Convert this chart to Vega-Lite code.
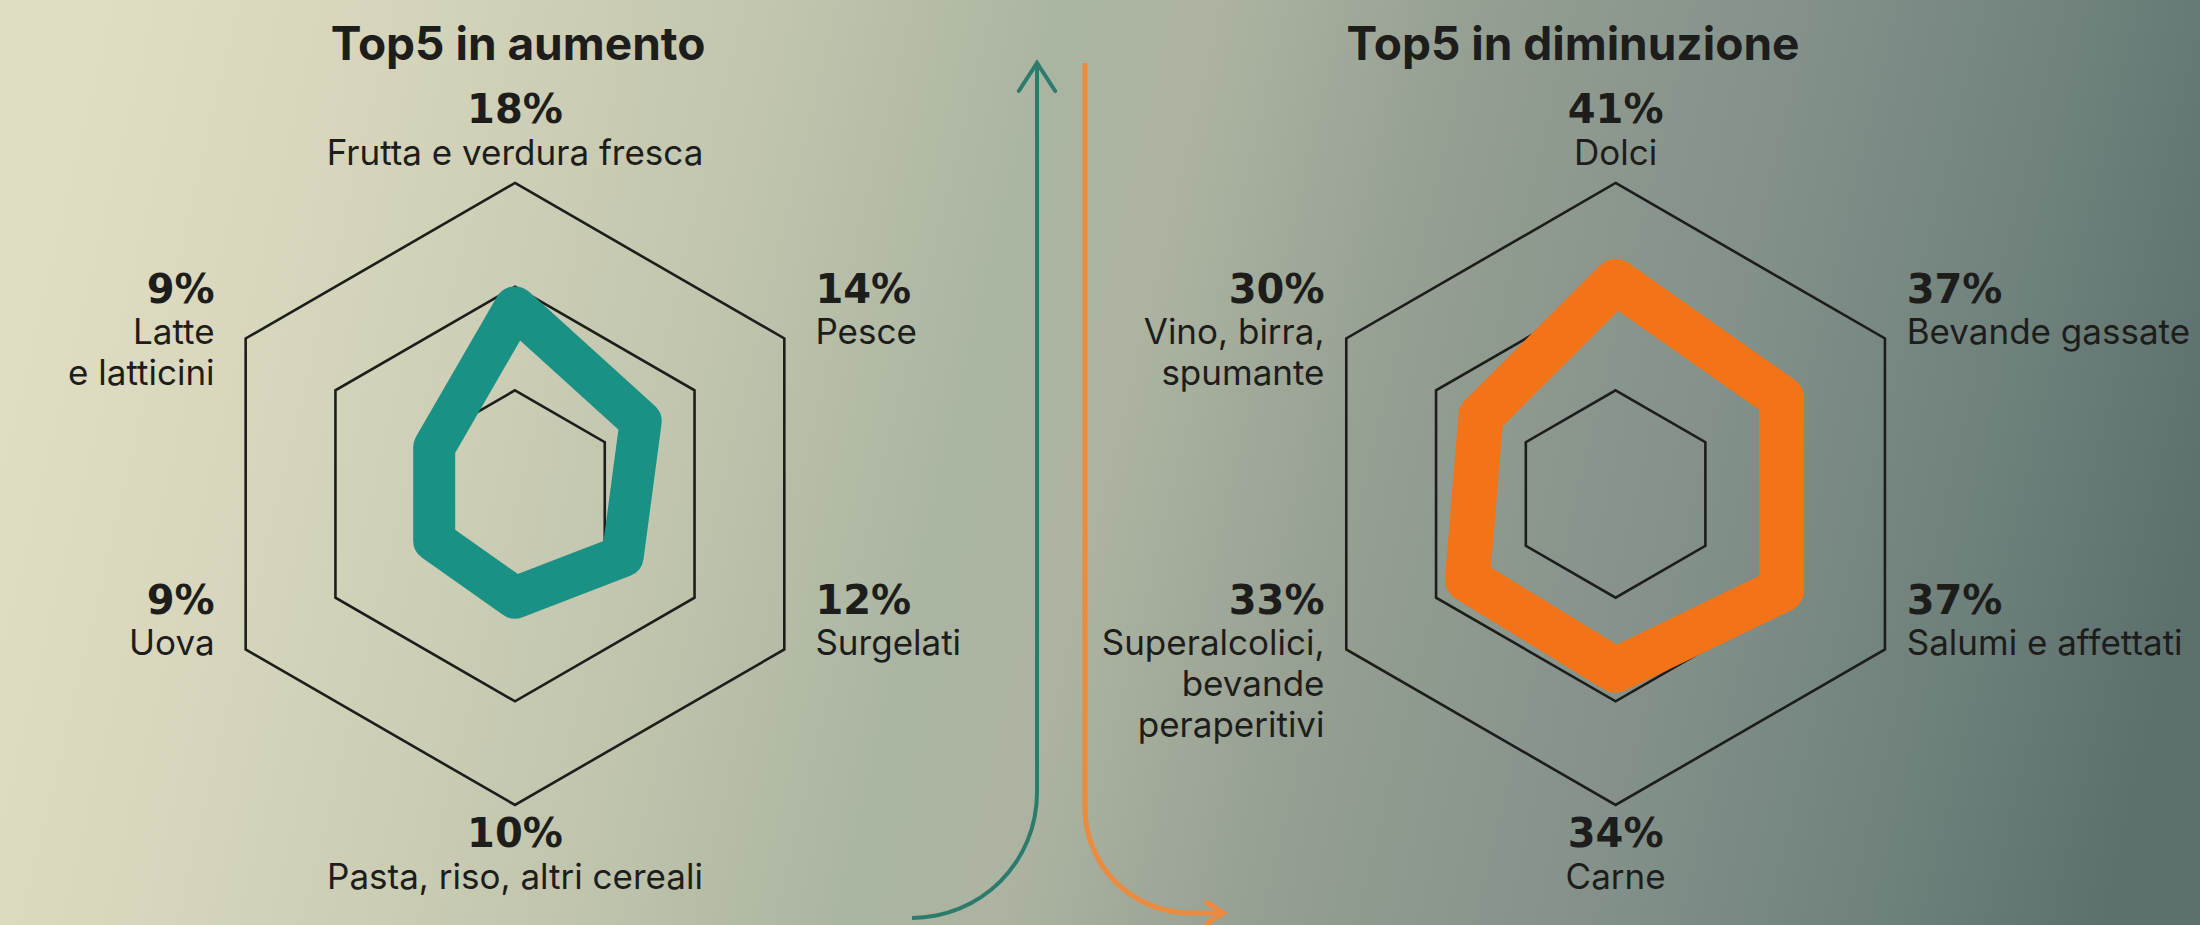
{
  "$schema": "https://vega.github.io/schema/vega-lite/v6.json",
  "width": 2200,
  "height": 925,
  "autosize": {"type": "none"},
  "padding": 0,
  "background": "#a9b3a0",
  "config": {
    "view": {
      "stroke": null,
      "fill": {
        "gradient": "linear",
        "x1": 0, "y1": 0.45, "x2": 1, "y2": 0.55,
        "stops": [
          {"offset": 0, "color": "#dfddc2"},
          {"offset": 0.12, "color": "#d7d6bc"},
          {"offset": 0.3, "color": "#c2c6ae"},
          {"offset": 0.44, "color": "#a9b4a1"},
          {"offset": 0.5, "color": "#adb4a1"},
          {"offset": 0.62, "color": "#959f92"},
          {"offset": 0.77, "color": "#83918a"},
          {"offset": 0.9, "color": "#6f817b"},
          {"offset": 1, "color": "#5d706e"}
        ]
      }
    },
    "text": {"font": "Inter", "color": "#1d1d1b"}
  },
  "datasets": {
    "aumento": [
      {"categoria": "Frutta e verdura fresca", "etichetta": "Frutta e verdura fresca", "valore": 18, "ordine": 0},
      {"categoria": "Pesce", "etichetta": "Pesce", "valore": 14, "ordine": 1},
      {"categoria": "Surgelati", "etichetta": "Surgelati", "valore": 12, "ordine": 2},
      {"categoria": "Pasta, riso, altri cereali", "etichetta": "Pasta, riso, altri cereali", "valore": 10, "ordine": 3},
      {"categoria": "Uova", "etichetta": "Uova", "valore": 9, "ordine": 4},
      {"categoria": "Latte e latticini", "etichetta": "Latte\ne latticini", "valore": 9, "ordine": 5}
    ],
    "diminuzione": [
      {"categoria": "Dolci", "etichetta": "Dolci", "valore": 41, "ordine": 0},
      {"categoria": "Bevande gassate", "etichetta": "Bevande gassate", "valore": 37, "ordine": 1},
      {"categoria": "Salumi e affettati", "etichetta": "Salumi e affettati", "valore": 37, "ordine": 2},
      {"categoria": "Carne", "etichetta": "Carne", "valore": 34, "ordine": 3},
      {"categoria": "Superalcolici, bevande peraperitivi", "etichetta": "Superalcolici,\nbevande\nperaperitivi", "valore": 33, "ordine": 4},
      {"categoria": "Vino, birra, spumante", "etichetta": "Vino, birra,\nspumante", "valore": 30, "ordine": 5}
    ]
  },
  "resolve": {"scale": {"x": "independent", "y": "independent", "size": "independent"}},
  "layer": [
    {
      "layer": [
        {
          "data": {"values": [{"livello": 10}, {"livello": 20}, {"livello": 30}]},
          "mark": {"type": "point", "shape": "M0,-1L0.866,-0.5L0.866,0.5L0,1L-0.866,0.5L-0.866,-0.5Z", "filled": false, "stroke": "#1d1d1b", "strokeWidth": 2.6, "opacity": 1},
          "encoding": {
            "x": {"datum": 0, "type": "quantitative", "scale": {"domain": [-1.6559, 5.418], "nice": false, "zero": false}, "axis": null},
            "y": {"datum": 0, "type": "quantitative", "scale": {"domain": [-1.3859, 1.5884], "nice": false, "zero": false}, "axis": null},
            "size": {"field": "livello", "type": "quantitative", "scale": {"type": "pow", "exponent": 2, "domain": [0, 30], "range": [0, 386884]}, "legend": null}
          }
        },
        {
          "data": {"values": [{"titolo": "Top5 in aumento"}]},
          "mark": {"type": "text", "font": "Inter", "fontWeight": 700, "fontSize": 46, "baseline": "middle", "align": "center"},
          "encoding": {
            "x": {"datum": 0.01, "type": "quantitative", "scale": {"domain": [-1.6559, 5.418], "nice": false, "zero": false}, "axis": null},
            "y": {"datum": 1.4405, "type": "quantitative", "scale": {"domain": [-1.3859, 1.5884], "nice": false, "zero": false}, "axis": null},
            "text": {"field": "titolo"}
          }
        },
        {
          "data": {"name": "aumento"},
          "transform": [
            {"calculate": "datum.ordine * PI / 3", "as": "theta"},
            {"calculate": "sin(datum.theta)", "as": "s"},
            {"calculate": "cos(datum.theta)", "as": "c"},
            {"calculate": "datum.valore / 30 * datum.s", "as": "px"},
            {"calculate": "datum.valore / 30 * datum.c", "as": "py"},
            {"calculate": "datum.valore + '%'", "as": "pct"},
            {"calculate": "abs(datum.s) < 0.1 ? 0 : (datum.s > 0 ? 1 : -1) * 0.966", "as": "lx"},
            {"calculate": "abs(datum.s) < 0.1 ? (datum.c > 0 ? 1.233 : -1.097) : datum.c + 0.154", "as": "pcty"},
            {"calculate": "abs(datum.s) < 0.1 ? (datum.c > 0 ? 1.148 : -1.18) : datum.c + 0.071", "as": "laby"}
          ],
          "encoding": {
            "x": {"field": "lx", "type": "quantitative", "scale": {"domain": [-1.6559, 5.418], "nice": false, "zero": false}, "axis": null}
          },
          "layer": [
            {
              "mark": {"type": "line", "interpolate": "linear-closed", "stroke": "#1a9185", "strokeWidth": 42, "strokeJoin": "round"},
              "encoding": {
                "x": {"field": "px", "type": "quantitative", "scale": {"domain": [-1.6559, 5.418], "nice": false, "zero": false}, "axis": null},
                "y": {"field": "py", "type": "quantitative", "scale": {"domain": [-1.3859, 1.5884], "nice": false, "zero": false}, "axis": null},
                "order": {"field": "ordine"}
              }
            },
            {
              "transform": [{"filter": "datum.s > 0.1"}],
              "mark": {"type": "text", "font": "DejaVu Sans", "fontWeight": "bold", "fontSize": 40, "align": "left", "baseline": "middle"},
              "encoding": {"y": {"field": "pcty", "type": "quantitative", "scale": {"domain": [-1.3859, 1.5884], "nice": false, "zero": false}, "axis": null}, "text": {"field": "pct"}}
            },
            {
              "transform": [{"filter": "datum.s < -0.1"}],
              "mark": {"type": "text", "font": "DejaVu Sans", "fontWeight": "bold", "fontSize": 40, "align": "right", "baseline": "middle"},
              "encoding": {"y": {"field": "pcty", "type": "quantitative", "scale": {"domain": [-1.3859, 1.5884], "nice": false, "zero": false}, "axis": null}, "text": {"field": "pct"}}
            },
            {
              "transform": [{"filter": "abs(datum.s) <= 0.1"}],
              "mark": {"type": "text", "font": "DejaVu Sans", "fontWeight": "bold", "fontSize": 40, "align": "center", "baseline": "middle"},
              "encoding": {"y": {"field": "pcty", "type": "quantitative", "scale": {"domain": [-1.3859, 1.5884], "nice": false, "zero": false}, "axis": null}, "text": {"field": "pct"}}
            },
            {
              "transform": [{"filter": "datum.s > 0.1"}],
              "mark": {"type": "text", "fontSize": 35, "align": "left", "baseline": "top", "lineBreak": "\n", "lineHeight": 41},
              "encoding": {"y": {"field": "laby", "type": "quantitative", "scale": {"domain": [-1.3859, 1.5884], "nice": false, "zero": false}, "axis": null}, "text": {"field": "etichetta"}}
            },
            {
              "transform": [{"filter": "datum.s < -0.1"}],
              "mark": {"type": "text", "fontSize": 35, "align": "right", "baseline": "top", "lineBreak": "\n", "lineHeight": 41},
              "encoding": {"y": {"field": "laby", "type": "quantitative", "scale": {"domain": [-1.3859, 1.5884], "nice": false, "zero": false}, "axis": null}, "text": {"field": "etichetta"}}
            },
            {
              "transform": [{"filter": "abs(datum.s) <= 0.1"}],
              "mark": {"type": "text", "fontSize": 35, "align": "center", "baseline": "top", "lineBreak": "\n", "lineHeight": 41},
              "encoding": {"y": {"field": "laby", "type": "quantitative", "scale": {"domain": [-1.3859, 1.5884], "nice": false, "zero": false}, "axis": null}, "text": {"field": "etichetta"}}
            }
          ]
        }
      ]
    },
    {
      "data": {"values": [{}]},
      "layer": [
        {
          "mark": {"type": "rule", "stroke": "#2c7b6c", "strokeWidth": 4},
          "encoding": {
            "x": {"datum": 1.6785, "type": "quantitative", "scale": {"domain": [-1.6559, 5.418], "nice": false, "zero": false}, "axis": null},
            "y": {"datum": 1.3859, "type": "quantitative", "scale": {"domain": [-1.3859, 1.5884], "nice": false, "zero": false}, "axis": null},
            "y2": {"datum": -0.9614}
          }
        },
        {
          "mark": {"type": "arc", "theta": 1.5708, "theta2": 3.1416, "radius": 127, "radius2": 123, "fill": "#2c7b6c"},
          "encoding": {
            "x": {"datum": 1.2765, "type": "quantitative", "scale": {"domain": [-1.6559, 5.418], "nice": false, "zero": false}, "axis": null},
            "y": {"datum": -0.9614, "type": "quantitative", "scale": {"domain": [-1.3859, 1.5884], "nice": false, "zero": false}, "axis": null}
          }
        },
        {
          "mark": {"type": "point", "shape": "M-0.65,1L0,0L0.65,1", "size": 3136, "filled": false, "stroke": "#2c7b6c", "strokeWidth": 4, "opacity": 1, "strokeCap": "round"},
          "encoding": {
            "x": {"datum": 1.6785, "type": "quantitative", "scale": {"domain": [-1.6559, 5.418], "nice": false, "zero": false}, "axis": null},
            "y": {"datum": 1.3859, "type": "quantitative", "scale": {"domain": [-1.3859, 1.5884], "nice": false, "zero": false}, "axis": null}
          }
        },
        {
          "mark": {"type": "rule", "stroke": "#ec8a3e", "strokeWidth": 5},
          "encoding": {
            "x": {"datum": 1.8328, "type": "quantitative", "scale": {"domain": [-1.6559, 5.418], "nice": false, "zero": false}, "axis": null},
            "y": {"datum": 1.3859, "type": "quantitative", "scale": {"domain": [-1.3859, 1.5884], "nice": false, "zero": false}, "axis": null},
            "y2": {"datum": -1.0096}
          }
        },
        {
          "mark": {"type": "arc", "theta": 3.1416, "theta2": 4.7124, "radius": 107.5, "radius2": 102.5, "fill": "#ec8a3e"},
          "encoding": {
            "x": {"datum": 2.1704, "type": "quantitative", "scale": {"domain": [-1.6559, 5.418], "nice": false, "zero": false}, "axis": null},
            "y": {"datum": -1.0096, "type": "quantitative", "scale": {"domain": [-1.3859, 1.5884], "nice": false, "zero": false}, "axis": null}
          }
        },
        {
          "mark": {"type": "rule", "stroke": "#ec8a3e", "strokeWidth": 5},
          "encoding": {
            "x": {"datum": 2.1704, "type": "quantitative", "scale": {"domain": [-1.6559, 5.418], "nice": false, "zero": false}, "axis": null},
            "x2": {"datum": 2.2669},
            "y": {"datum": -1.3473, "type": "quantitative", "scale": {"domain": [-1.3859, 1.5884], "nice": false, "zero": false}, "axis": null}
          }
        },
        {
          "mark": {"type": "point", "shape": "M-1,-0.65L0,0L-1,0.65", "size": 1024, "filled": false, "stroke": "#ec8a3e", "strokeWidth": 5, "opacity": 1, "strokeCap": "round"},
          "encoding": {
            "x": {"datum": 2.2765, "type": "quantitative", "scale": {"domain": [-1.6559, 5.418], "nice": false, "zero": false}, "axis": null},
            "y": {"datum": -1.3473, "type": "quantitative", "scale": {"domain": [-1.3859, 1.5884], "nice": false, "zero": false}, "axis": null}
          }
        }
      ]
    },
    {
      "layer": [
        {
          "data": {"values": [{"livello": 20}, {"livello": 40}, {"livello": 60}]},
          "mark": {"type": "point", "shape": "M0,-1L0.866,-0.5L0.866,0.5L0,1L-0.866,0.5L-0.866,-0.5Z", "filled": false, "stroke": "#1d1d1b", "strokeWidth": 2.6, "opacity": 1},
          "encoding": {
            "x": {"datum": 0, "type": "quantitative", "scale": {"domain": [-5.1949, 1.8791], "nice": false, "zero": false}, "axis": null},
            "y": {"datum": 0, "type": "quantitative", "scale": {"domain": [-1.3859, 1.5884], "nice": false, "zero": false}, "axis": null},
            "size": {"field": "livello", "type": "quantitative", "scale": {"type": "pow", "exponent": 2, "domain": [0, 60], "range": [0, 386884]}, "legend": null}
          }
        },
        {
          "data": {"values": [{"titolo": "Top5 in diminuzione"}]},
          "mark": {"type": "text", "font": "Inter", "fontWeight": 700, "fontSize": 46, "baseline": "middle", "align": "center"},
          "encoding": {
            "x": {"datum": -0.137, "type": "quantitative", "scale": {"domain": [-5.1949, 1.8791], "nice": false, "zero": false}, "axis": null},
            "y": {"datum": 1.4405, "type": "quantitative", "scale": {"domain": [-1.3859, 1.5884], "nice": false, "zero": false}, "axis": null},
            "text": {"field": "titolo"}
          }
        },
        {
          "data": {"name": "diminuzione"},
          "transform": [
            {"calculate": "datum.ordine * PI / 3", "as": "theta"},
            {"calculate": "sin(datum.theta)", "as": "s"},
            {"calculate": "cos(datum.theta)", "as": "c"},
            {"calculate": "datum.valore / 60 * datum.s", "as": "px"},
            {"calculate": "datum.valore / 60 * datum.c", "as": "py"},
            {"calculate": "datum.valore + '%'", "as": "pct"},
            {"calculate": "abs(datum.s) < 0.1 ? 0 : (datum.s > 0 ? 1 : -1) * 0.936", "as": "lx"},
            {"calculate": "abs(datum.s) < 0.1 ? (datum.c > 0 ? 1.233 : -1.097) : datum.c + 0.154", "as": "pcty"},
            {"calculate": "abs(datum.s) < 0.1 ? (datum.c > 0 ? 1.148 : -1.18) : datum.c + 0.071", "as": "laby"}
          ],
          "encoding": {
            "x": {"field": "lx", "type": "quantitative", "scale": {"domain": [-5.1949, 1.8791], "nice": false, "zero": false}, "axis": null}
          },
          "layer": [
            {
              "mark": {"type": "line", "interpolate": "linear-closed", "stroke": "#f37418", "strokeWidth": 45, "strokeJoin": "round"},
              "encoding": {
                "x": {"field": "px", "type": "quantitative", "scale": {"domain": [-5.1949, 1.8791], "nice": false, "zero": false}, "axis": null},
                "y": {"field": "py", "type": "quantitative", "scale": {"domain": [-1.3859, 1.5884], "nice": false, "zero": false}, "axis": null},
                "order": {"field": "ordine"}
              }
            },
            {
              "transform": [{"filter": "datum.s > 0.1"}],
              "mark": {"type": "text", "font": "DejaVu Sans", "fontWeight": "bold", "fontSize": 40, "align": "left", "baseline": "middle"},
              "encoding": {"y": {"field": "pcty", "type": "quantitative", "scale": {"domain": [-1.3859, 1.5884], "nice": false, "zero": false}, "axis": null}, "text": {"field": "pct"}}
            },
            {
              "transform": [{"filter": "datum.s < -0.1"}],
              "mark": {"type": "text", "font": "DejaVu Sans", "fontWeight": "bold", "fontSize": 40, "align": "right", "baseline": "middle"},
              "encoding": {"y": {"field": "pcty", "type": "quantitative", "scale": {"domain": [-1.3859, 1.5884], "nice": false, "zero": false}, "axis": null}, "text": {"field": "pct"}}
            },
            {
              "transform": [{"filter": "abs(datum.s) <= 0.1"}],
              "mark": {"type": "text", "font": "DejaVu Sans", "fontWeight": "bold", "fontSize": 40, "align": "center", "baseline": "middle"},
              "encoding": {"y": {"field": "pcty", "type": "quantitative", "scale": {"domain": [-1.3859, 1.5884], "nice": false, "zero": false}, "axis": null}, "text": {"field": "pct"}}
            },
            {
              "transform": [{"filter": "datum.s > 0.1"}],
              "mark": {"type": "text", "fontSize": 35, "align": "left", "baseline": "top", "lineBreak": "\n", "lineHeight": 41},
              "encoding": {"y": {"field": "laby", "type": "quantitative", "scale": {"domain": [-1.3859, 1.5884], "nice": false, "zero": false}, "axis": null}, "text": {"field": "etichetta"}}
            },
            {
              "transform": [{"filter": "datum.s < -0.1"}],
              "mark": {"type": "text", "fontSize": 35, "align": "right", "baseline": "top", "lineBreak": "\n", "lineHeight": 41},
              "encoding": {"y": {"field": "laby", "type": "quantitative", "scale": {"domain": [-1.3859, 1.5884], "nice": false, "zero": false}, "axis": null}, "text": {"field": "etichetta"}}
            },
            {
              "transform": [{"filter": "abs(datum.s) <= 0.1"}],
              "mark": {"type": "text", "fontSize": 35, "align": "center", "baseline": "top", "lineBreak": "\n", "lineHeight": 41},
              "encoding": {"y": {"field": "laby", "type": "quantitative", "scale": {"domain": [-1.3859, 1.5884], "nice": false, "zero": false}, "axis": null}, "text": {"field": "etichetta"}}
            }
          ]
        }
      ]
    }
  ]
}
